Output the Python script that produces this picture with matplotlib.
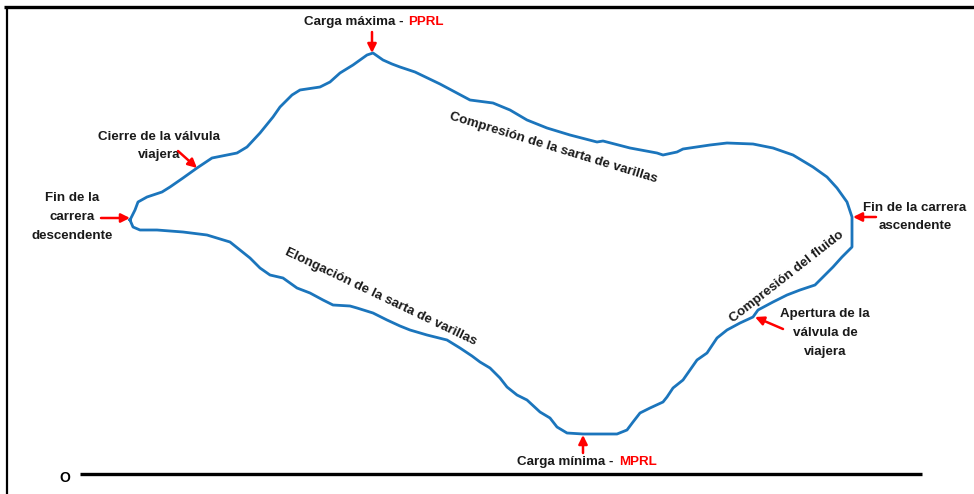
import matplotlib.pyplot as plt

# carta dinamometrica: posicion de la varilla vs carga (unidades del dibujo)
posicion = [50, 55, 58, 67, 82, 90, 103, 117, 132, 157, 167, 180, 193, 200, 212, 220, 240, 250,
            260, 273, 287, 293, 303, 312, 320, 335, 360, 375, 390, 413, 430, 447, 467, 490, 517,
            523, 550, 577, 583, 597, 603, 630, 647, 673, 693, 713, 733, 747, 757, 767, 772, 772,
            772, 762, 753, 747, 735, 720, 707, 693, 678, 673, 660, 647, 637, 627, 617, 610, 603,
            593, 587, 583, 570, 560, 553, 547, 537, 503, 487, 477, 470, 460, 447, 437, 427, 420,
            410, 400, 392, 380, 367, 347, 330, 320, 307, 293, 277, 270, 253, 243, 230, 217, 203,
            190, 180, 170, 160, 150, 127, 103, 77, 60, 53, 50]
carga = [254, 264, 272, 277, 282, 287, 296, 306, 316, 321, 327, 341, 357, 367, 379, 384, 387, 392,
         401, 409, 419, 421, 414, 410, 407, 402, 390, 382, 374, 371, 364, 354, 346, 339, 332,
         333, 326, 321, 319, 322, 325, 329, 331, 330, 326, 319, 307, 297, 286, 272, 257, 242,
         227, 217, 207, 201, 189, 184, 179, 172, 164, 157, 151, 144, 136, 121, 114, 104, 94,
         86, 77, 72, 66, 61, 52, 44, 40, 40, 41, 47, 56, 62, 74, 79, 87, 96,
         106, 112, 118, 126, 134, 139, 144, 148, 154, 161, 166, 168, 169, 174, 181, 186, 196,
         199, 206, 216, 224, 232, 239, 242, 244, 244, 247, 254]

fuente = ['Liberation Sans Narrow', 'Liberation Sans', 'DejaVu Sans']
azul = '#1b75bc'
rojo = '#ff0000'

fig = plt.figure(figsize=(9.74, 4.94), dpi=100)
ax = fig.add_axes([0, 0, 1, 1])
ax.set_xlim(-80, 894)
ax.set_ylim(-20, 474)
ax.axis('off')

# marco
ax.plot([-76, 894], [467, 467], color='black', lw=2.4, solid_capstyle='butt')
ax.plot([-73, -73], [467, -20], color='black', lw=1.6, solid_capstyle='butt')

# linea de carga cero
ax.plot([0, 842], [0, 0], color='black', lw=2.4, solid_capstyle='butt')
ax.text(-15, -4, 'O', fontsize=10, fontweight='bold', ha='center', va='center', family=fuente)

ax.plot(posicion, carga, color=azul, lw=2.0, solid_joinstyle='round')

flecha = dict(arrowstyle='-|>', color=rojo, lw=1.8, mutation_scale=13, shrinkA=0, shrinkB=0)
kw = dict(fontsize=9.6, fontweight='bold', family=fuente, linespacing=1.75)

# carga maxima
ax.text(323, 452, 'Carga máxima -', ha='right', va='center', color='#1a1a1a', **kw)
ax.text(328, 452, 'PPRL', ha='left', va='center', color=rojo, **kw)
ax.annotate('', xy=(292, 421), xytext=(292, 442), arrowprops=flecha)

# carga minima
ax.text(533, 12, 'Carga mínima -', ha='right', va='center', color='#1a1a1a', **kw)
ax.text(539, 12, 'MPRL', ha='left', va='center', color=rojo, **kw)
ax.annotate('', xy=(503, 39), xytext=(503, 21), arrowprops=flecha)

# eventos del ciclo
ax.text(79, 328, 'Cierre de la válvula\nviajera', ha='center', va='center', color='#1a1a1a', **kw)
ax.annotate('', xy=(117, 306), xytext=(98, 323), arrowprops=flecha)

ax.text(-8, 257, 'Fin de la\ncarrera\ndescendente', ha='center', va='center', color='#1a1a1a', **kw)
ax.annotate('', xy=(50, 256), xytext=(21, 256), arrowprops=flecha)

ax.text(835, 257, 'Fin de la carrera\nascendente', ha='center', va='center', color='#1a1a1a', **kw)
ax.annotate('', xy=(773, 257), xytext=(796, 257), arrowprops=flecha)

ax.text(745, 141, 'Apertura de la\nválvula de\nviajera', ha='center', va='center', color='#1a1a1a', **kw)
ax.annotate('', xy=(675, 157), xytext=(703, 145), arrowprops=flecha)

# tramos
ax.text(473, 326, 'Compresión de la sarta de varillas', rotation=-17, rotation_mode='anchor',
        ha='center', va='center', color='#1a1a1a', **kw)
ax.text(301, 177, 'Elongación de la sarta de varillas', rotation=-25.5, rotation_mode='anchor',
        ha='center', va='center', color='#1a1a1a', **kw)
ax.text(707, 197, 'Compresión del fluido', rotation=38, rotation_mode='anchor',
        ha='center', va='center', color='#1a1a1a', **kw)

fig.savefig('out.png', dpi=100)
